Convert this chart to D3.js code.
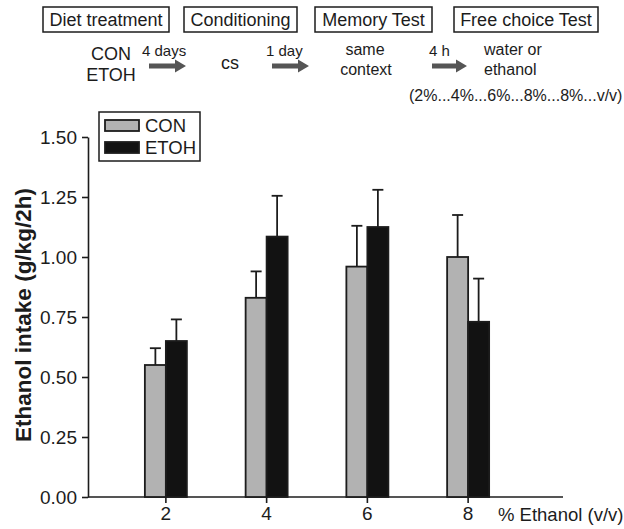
<!DOCTYPE html>
<html>
<head>
<meta charset="utf-8">
<script src="https://cdn.jsdelivr.net/npm/d3@7"></script>
<style>
  body { margin: 0; background: #fff; }
  svg { display: block; font-family: "Liberation Sans", Arial, sans-serif; }
</style>
</head>
<body>
<div id="chart"></div>
<script>
// ethanol concentrations (% v/v)
var concentrations = ["2", "4", "6", "8"];
var groups = ["CON", "ETOH"];
var conMean = [0.55, 0.83, 0.96, 1.00];
var conSem  = [0.07, 0.11, 0.17, 0.175];
var etohMean = [0.65, 1.085, 1.125, 0.73];
var etohSem  = [0.09, 0.17, 0.155, 0.18];
var yTicks = [0, 0.25, 0.5, 0.75, 1.0, 1.25, 1.5];

// protocol header
var stages = ["Diet treatment", "Conditioning", "Memory Test", "Free choice Test"];
var delays = ["4 days", "1 day", "4 h"];

var W = 624, H = 529;
var colors = { CON: "#b2b2b2", ETOH: "#121212" };
var ink = "#1c1c1c";

var svg = d3.select( "#chart" )
  .append( "svg" )
  .attr( "width", W )
  .attr( "height", H );

// ---- header diagram
var boxes = [[43, 169], [184, 297], [315, 432], [454, 598]];
stages.forEach( function( s, i ){
  var b = boxes[i];
  svg.append( "rect" )
    .attr( "x", b[0] ).attr( "y", 7 )
    .attr( "width", b[1] - b[0] ).attr( "height", 25 )
    .attr( "fill", "none" ).attr( "stroke", ink ).attr( "stroke-width", 1.5 );
  svg.append( "text" )
    .attr( "x", (b[0] + b[1]) / 2 ).attr( "y", 26 )
    .attr( "text-anchor", "middle" )
    .attr( "font-size", 18 ).attr( "fill", ink )
    .text( s );
} );

function txt( x, y, s, size, anchor ){
  return svg.append( "text" )
    .attr( "x", x ).attr( "y", y )
    .attr( "text-anchor", anchor || "middle" )
    .attr( "font-size", size ).attr( "fill", ink )
    .text( s );
}
txt( 111, 60, "CON", 18 );
txt( 111, 81, "ETOH", 18 );
txt( 230, 69, "cs", 18 );
txt( 365, 55, "same", 16 );
txt( 366, 75, "context", 16 );
txt( 484, 55, "water or", 16, "start" );
txt( 484, 75, "ethanol", 16, "start" );
txt( 409, 101, "(2%...4%...6%...8%...8%...v/v)", 16, "start" );

var arrows = [[149, 186, 142], [272, 309, 266], [432, 467, 429]];
delays.forEach( function( d, i ){
  var a = arrows[i], y = 66;
  txt( a[2], 56, d, 15, "start" );
  svg.append( "path" )
    .attr( "d", "M" + a[0] + "," + (y - 2.5) + "H" + (a[1] - 11) + "V" + (y - 6.5) +
      "L" + a[1] + "," + y + "L" + (a[1] - 11) + "," + (y + 6.5) + "V" + (y + 2.5) +
      "H" + a[0] + "Z" )
    .attr( "fill", "#555" );
} );

// ---- bar chart
var x0 = 88, x1 = 563, yTop = 137, yBot = 497;

var x = d3.scaleBand()
  .domain( concentrations )
  .range( [115.5, 518.5] );

var xg = d3.scaleBand()
  .domain( groups )
  .range( [-21, 21] );

var y = d3.scaleLinear()
  .domain( [0, 1.5] )
  .range( [yBot, yTop] );

var yAxis = d3.axisLeft( y )
  .tickValues( yTicks )
  .tickFormat( d3.format( ".2f" ) )
  .tickSize( 6 )
  .tickSizeOuter( 0 )
  .tickPadding( 5 );

var gy = svg.append( "g" )
  .attr( "transform", "translate(" + x0 + ",0)" )
  .call( yAxis );
gy.selectAll( "path, line" ).attr( "stroke", ink ).attr( "stroke-width", 1.6 );
gy.selectAll( "text" ).attr( "font-size", 19 ).attr( "fill", ink )
  .style( "font-family", "Liberation Sans, Arial, sans-serif" );

var xAxis = d3.axisBottom( x )
  .tickSize( 6 )
  .tickSizeOuter( 0 )
  .tickPadding( 4 );

var gx = svg.append( "g" )
  .attr( "transform", "translate(0," + yBot + ")" )
  .call( xAxis );
gx.select( ".domain" ).remove();
gx.selectAll( "line" ).attr( "stroke", ink ).attr( "stroke-width", 1.6 );
gx.selectAll( "text" ).attr( "font-size", 19 ).attr( "fill", ink )
  .style( "font-family", "Liberation Sans, Arial, sans-serif" );
gx.append( "line" )
  .attr( "x1", x0 ).attr( "x2", x1 )
  .attr( "stroke", ink ).attr( "stroke-width", 1.6 );

svg.append( "text" )
  .attr( "x", 498 ).attr( "y", 521 )
  .attr( "font-size", 18.5 ).attr( "fill", ink )
  .text( "% Ethanol (v/v)" );

svg.append( "text" )
  .attr( "transform", "translate(31,315) rotate(-90)" )
  .attr( "text-anchor", "middle" )
  .attr( "font-size", 22.5 ).attr( "font-weight", "bold" ).attr( "fill", ink )
  .text( "Ethanol intake (g/kg/2h)" );

var rows = [];
concentrations.forEach( function( c, i ){
  rows.push( { c: c, g: "CON", m: conMean[i], e: conSem[i] } );
  rows.push( { c: c, g: "ETOH", m: etohMean[i], e: etohSem[i] } );
} );

var bars = svg.append( "g" ).selectAll( "g" )
  .data( rows )
  .enter().append( "g" )
  .attr( "transform", function( d ){
    return "translate(" + (x( d.c ) + x.bandwidth() / 2 + xg( d.g )) + ",0)";
  } );

bars.append( "line" )
  .attr( "x1", xg.bandwidth() / 2 ).attr( "x2", xg.bandwidth() / 2 )
  .attr( "y1", function( d ){ return y( d.m ); } )
  .attr( "y2", function( d ){ return y( d.m + d.e ); } )
  .attr( "stroke", ink ).attr( "stroke-width", 1.8 );

bars.append( "line" )
  .attr( "x1", xg.bandwidth() / 2 - 5.5 ).attr( "x2", xg.bandwidth() / 2 + 5.5 )
  .attr( "y1", function( d ){ return y( d.m + d.e ); } )
  .attr( "y2", function( d ){ return y( d.m + d.e ); } )
  .attr( "stroke", ink ).attr( "stroke-width", 1.8 );

bars.append( "rect" )
  .attr( "x", 0 )
  .attr( "y", function( d ){ return y( d.m ); } )
  .attr( "width", xg.bandwidth() )
  .attr( "height", function( d ){ return yBot - y( d.m ); } )
  .attr( "fill", function( d ){ return colors[d.g]; } )
  .attr( "stroke", ink ).attr( "stroke-width", 1.8 );

// legend
var lg = svg.append( "g" ).attr( "transform", "translate(99,112)" );
lg.append( "rect" )
  .attr( "width", 101 ).attr( "height", 49 )
  .attr( "fill", "#fff" ).attr( "stroke", ink ).attr( "stroke-width", 1.5 );
groups.forEach( function( g, i ){
  lg.append( "rect" )
    .attr( "x", 6 ).attr( "y", 8 + i * 22 )
    .attr( "width", 34 ).attr( "height", 11 )
    .attr( "fill", colors[g] ).attr( "stroke", ink ).attr( "stroke-width", 1.8 );
  lg.append( "text" )
    .attr( "x", 46 ).attr( "y", 20 + i * 22 )
    .attr( "font-size", 18.5 ).attr( "fill", ink )
    .text( g );
} );
</script>
</body>
</html>
